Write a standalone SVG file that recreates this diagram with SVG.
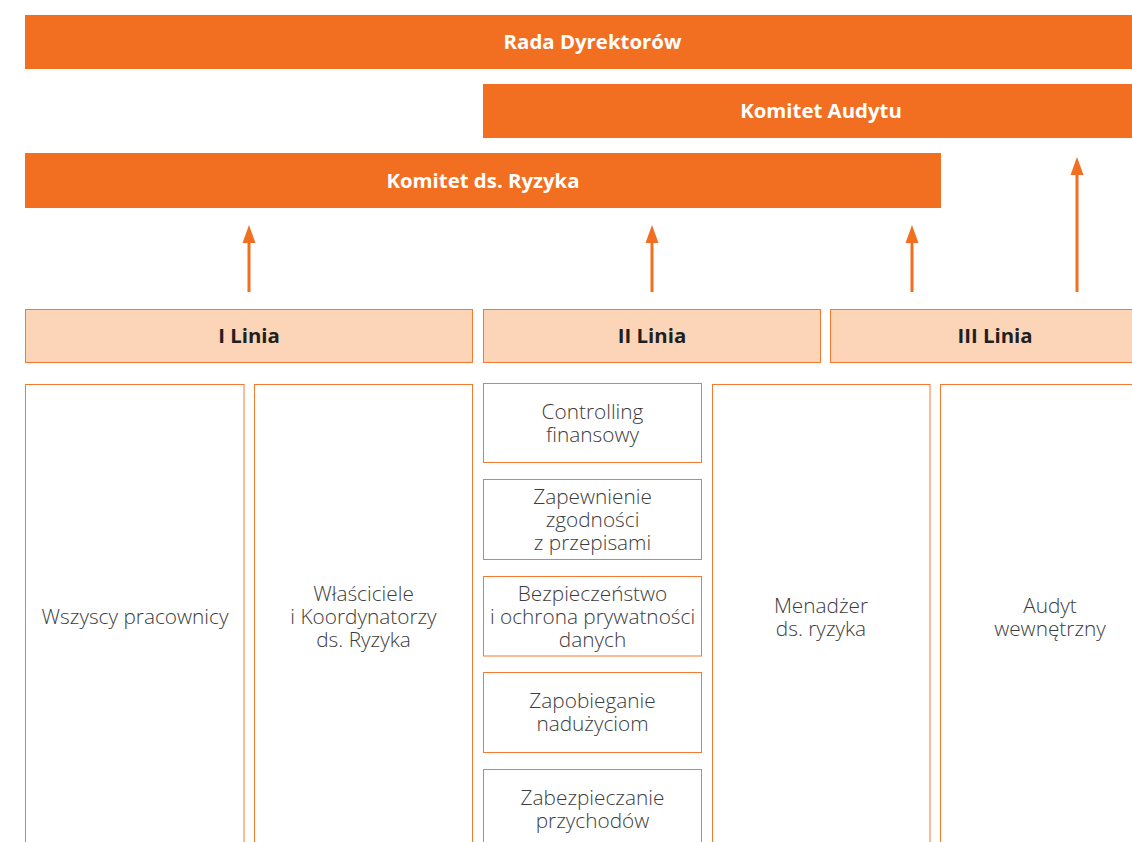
<svg xmlns="http://www.w3.org/2000/svg" width="1132" height="842" viewBox="0 0 1132 842">
<style>
.bar{fill:#F26F21;}
.bart{font-family:"Open Sans","Liberation Sans",sans-serif;font-weight:700;font-size:20.4px;fill:#ffffff;text-anchor:middle;}
.hdr{fill:#FCD5B8;stroke:#F37A2E;stroke-width:1;}
.hdrt{font-family:"Open Sans","Liberation Sans",sans-serif;font-weight:700;font-size:20.4px;fill:#231F20;text-anchor:middle;}
.box{fill:#ffffff;stroke:#F37A2E;stroke-width:1;}
.t{font-family:"Open Sans","Liberation Sans",sans-serif;font-weight:300;font-size:20.8px;fill:#3C3C3C;text-anchor:middle;}
.arr{stroke:#F26F21;stroke-width:3;fill:none;marker-end:url(#ah);}
</style>
<defs>
<marker id="ah" markerUnits="userSpaceOnUse" markerWidth="18" markerHeight="14" refX="0" refY="6.5" orient="auto" viewBox="0 0 18 13">
<path d="M0,0 L18,6.5 L0,13 Z" fill="#F26F21"/>
</marker>
</defs>
<rect width="1132" height="842" fill="#ffffff"/>

<g id="rada">
<rect class="bar" x="25" y="15" width="1135" height="54"/>
<text class="bart" x="592.5" y="49">Rada Dyrektorów</text>
</g>
<g id="komitet-audytu">
<rect class="bar" x="483" y="84" width="677" height="54"/>
<text class="bart" x="821" y="118">Komitet Audytu</text>
</g>
<g id="komitet-ryzyka">
<rect class="bar" x="25" y="153" width="916" height="55"/>
<text class="bart" x="483" y="188">Komitet ds. Ryzyka</text>
</g>

<g id="connectors">
<line class="arr" x1="249" y1="292" x2="249" y2="243"/>
<line class="arr" x1="652" y1="292" x2="652" y2="243"/>
<line class="arr" x1="912" y1="292" x2="912" y2="243"/>
<line class="arr" x1="1077" y1="292" x2="1077" y2="175"/>
</g>

<g id="linia1">
<rect class="hdr" x="25.5" y="309.5" width="447" height="53"/>
<text class="hdrt" x="249" y="343">I Linia</text>
</g>
<g id="linia2">
<rect class="hdr" x="483.5" y="309.5" width="337" height="53"/>
<text class="hdrt" x="652" y="343">II Linia</text>
</g>
<g id="linia3">
<rect class="hdr" x="830.5" y="309.5" width="330" height="53"/>
<text class="hdrt" x="995" y="343">III Linia</text>
</g>

<g id="wszyscy">
<rect class="box" x="25.5" y="384.5" width="218.5" height="470"/>
<text class="t" x="135" y="624">Wszyscy pracownicy</text>
</g>
<g id="wlasciciele">
<rect class="box" x="254.5" y="384.5" width="218" height="470"/>
<text class="t" y="601"><tspan x="363.5">Właściciele</tspan><tspan x="363.5" dy="23">i Koordynatorzy</tspan><tspan x="363.5" dy="23">ds. Ryzyka</tspan></text>
</g>
<g id="controlling">
<rect class="box" x="483.5" y="383.5" width="218" height="79"/>
<text class="t" y="419"><tspan x="592.5">Controlling</tspan><tspan x="592.5" dy="23">finansowy</tspan></text>
</g>
<g id="zgodnosc">
<rect class="box" x="483.5" y="479.5" width="218" height="80"/>
<text class="t" y="504"><tspan x="592.5">Zapewnienie</tspan><tspan x="592.5" dy="23">zgodności</tspan><tspan x="592.5" dy="23">z przepisami</tspan></text>
</g>
<g id="bezpieczenstwo">
<rect class="box" x="483.5" y="576.5" width="218" height="79.5"/>
<text class="t" y="601"><tspan x="592.5">Bezpieczeństwo</tspan><tspan x="592.5" dy="23">i ochrona prywatności</tspan><tspan x="592.5" dy="23">danych</tspan></text>
</g>
<g id="naduzycia">
<rect class="box" x="483.5" y="672.5" width="218" height="80"/>
<text class="t" y="708"><tspan x="592.5">Zapobieganie</tspan><tspan x="592.5" dy="23">nadużyciom</tspan></text>
</g>
<g id="przychody">
<rect class="box" x="483.5" y="769.5" width="218" height="90"/>
<text class="t" y="805"><tspan x="592.5">Zabezpieczanie</tspan><tspan x="592.5" dy="23">przychodów</tspan></text>
</g>
<g id="menadzer">
<rect class="box" x="712.5" y="384.5" width="217.5" height="470"/>
<text class="t" y="613"><tspan x="821">Menadżer</tspan><tspan x="821" dy="23">ds. ryzyka</tspan></text>
</g>
<g id="audyt">
<rect class="box" x="940.5" y="384.5" width="220" height="470"/>
<text class="t" y="613"><tspan x="1050">Audyt</tspan><tspan x="1050" dy="23">wewnętrzny</tspan></text>
</g>
</svg>
